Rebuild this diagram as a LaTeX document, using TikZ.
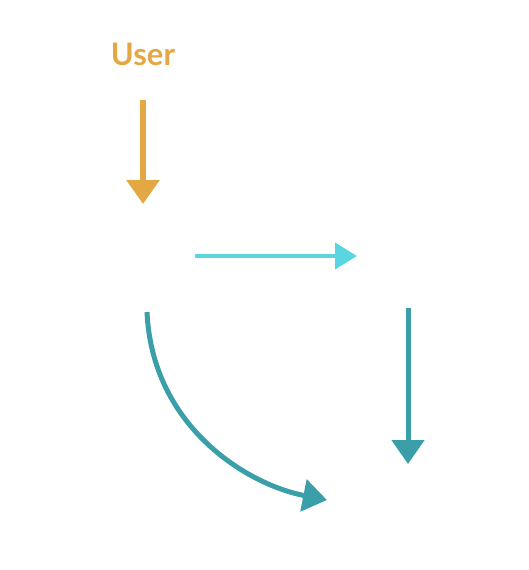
\documentclass[tikz,border=0pt]{standalone}
\usepackage{fontspec}
\setmainfont{Lato}
\usetikzlibrary{arrows.meta}
\definecolor{userorange}{HTML}{E3A843}
\definecolor{runcyan}{HTML}{5AD5E2}
\definecolor{checkteal}{HTML}{3A9FA8}
\begin{document}
\begin{tikzpicture}[x=1pt, y=-1pt,
    box/.style={text=white, font=\fontsize{30}{32}\selectfont},
    lbl/.style={text=white, font=\fontsize{18}{26}\selectfont, align=center},
    flow/.style={line width=5pt, -{Triangle[width=32pt, length=24pt]}}]
    \useasboundingbox (0,0) rectangle (528,570);
    % Actors and parts
    \node[text=userorange, font=\bfseries\fontsize{31}{34}\selectfont] (user) at (143,54) {User};
    \node[box] (test) at (145,255) {Test};
    \node[box] (sut) at (410,255) {SUT};
    \node[box, font=\fontsize{36}{38}\selectfont] (output) at (405,518) {Output};
    % Arrow ends
    \coordinate (u0) at (143,100); \coordinate (u1) at (143,204);
    \coordinate (r0) at (195,256); \coordinate (r1) at (357,256);
    \coordinate (s0) at (408,308); \coordinate (s1) at (408,464);
    \coordinate (t0) at (147,312); \coordinate (o0) at (327,500);
    % Arrows
    \draw[flow, userorange, line width=6pt] (u0) -- (u1);
    \draw[runcyan, line width=4pt, -{Triangle[width=26pt, length=22pt]}] (r0) -- (r1);
    \draw[flow, checkteal] (s0) -- (s1);
    \draw[flow, checkteal] (t0) .. controls (152,425) and (245,484) .. (o0);
    % Labels
    \node[lbl] (inlbl) at (64,135) {known input};
    \node[lbl] (runlbl) at (262,282) {run};
    \node[lbl] (calclbl) at (478,367) {calculate};
    \node[lbl] (asslbl) at (88,386) {assert known\\output};
\end{tikzpicture}
\end{document}
